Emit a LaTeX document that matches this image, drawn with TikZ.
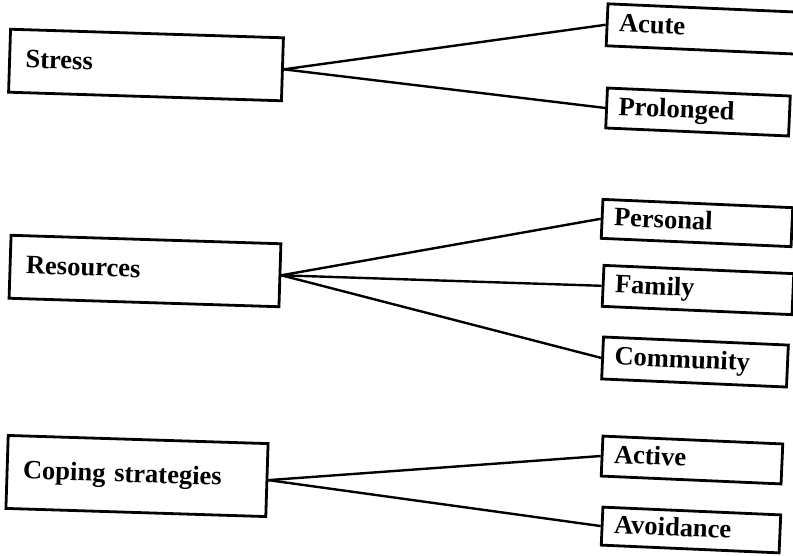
\documentclass[tikz,border=0pt]{standalone}
\usepackage{fontspec}
\setmainfont{Liberation Serif}
\usetikzlibrary{positioning}

\begin{document}
\begin{tikzpicture}[
	x=1pt, y=-1pt,
	box/.style = {draw, line width=2.8pt, align=left, text height=19pt, text depth=6pt,
		font=\bfseries\fontsize{26.5}{31}\selectfont},
	main/.style = {box, rotate=-1.8, inner xsep=16pt, text width=#1},
	item/.style = {box, rotate=-2.5, inner xsep=12pt, text width=#1},
	link/.style = {line width=2.4pt}
]

\useasboundingbox (0,0) rectangle (793,555);

% left column
\node[main=241, minimum height=63pt] (stress) at (146,65) {Stress};
\node[main=238, minimum height=63pt] (resources) at (145,271) {Resources};
\node[main=228, minimum height=73pt] (coping) at (137,476) {Coping strategies};

% right column
\node[item=168, minimum height=42pt] (acute) at (703,29) {Acute};
\node[item=159, minimum height=40pt] (prolonged) at (698,112) {Prolonged};
\node[item=166, minimum height=39pt] (personal) at (697,223) {Personal};
\node[item=166, minimum height=41pt] (family) at (698,290) {Family};
\node[item=161, minimum height=42pt] (community) at (695,362) {Community};
\node[item=156, minimum height=40pt] (active) at (692,460) {Active};
\node[item=154, minimum height=38pt] (avoidance) at (691,530) {Avoidance};

\draw[link] (stress.east) -- (acute.west);
\draw[link] (stress.east) -- (prolonged.west);
\draw[link] (resources.east) -- (personal.west);
\draw[link] (resources.east) -- (family.west);
\draw[link] (resources.east) -- (community.west);
\draw[link] (coping.east) -- (active.west);
\draw[link] (coping.east) -- (avoidance.west);

\end{tikzpicture}
\end{document}
